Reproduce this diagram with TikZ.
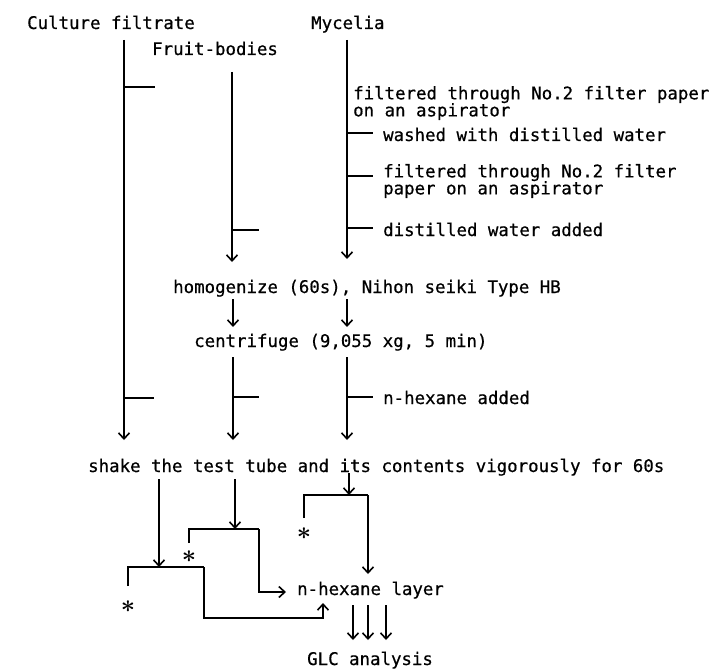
\documentclass[tikz,border=0pt]{standalone}
\usepackage{fontspec}
\newfontfamily\labfont[FakeBold=0.6]{DejaVu Sans Mono}
\usetikzlibrary{arrows.meta}
\begin{document}
\begin{tikzpicture}[x=1pt,y=-1pt,
  lbl/.style={anchor=base west,inner sep=0pt,font=\labfont\fontsize{17.4}{17}\selectfont},
  lbl2/.style={anchor=west,align=left,inner sep=0pt,font=\labfont\fontsize{17.4}{17}\selectfont},
  ln/.style={line width=1.6pt},
  arr/.style={ln,-{Straight Barb[length=6pt,width=11pt,line width=1.6pt]}},
  star/.style={inner sep=0pt,font=\fontsize{26}{26}\selectfont\boldmath}]
\useasboundingbox (0,0) rectangle (716,669);
% texts
\node[lbl] (cf) at (27,29) {Culture filtrate};
\node[lbl] (my) at (311,29) {Mycelia};
\node[lbl] (fb) at (152,55) {Fruit-bodies};
\node[lbl2] (f1) at (353,103) {filtered through No.2 filter paper\\on an aspirator};
\node[lbl] (wa) at (383,141) {washed with distilled water};
\node[lbl2] (f2) at (383,181) {filtered through No.2 filter\\paper on an aspirator};
\node[lbl] (dw) at (383,236) {distilled water added};
\node[lbl] (ho) at (173,293) {homogenize (60s), Nihon seiki Type HB};
\node[lbl] (ce) at (194,347) {centrifuge (9,055 xg, 5 min)};
\node[lbl] (nh) at (383,404) {n-hexane added};
\node[lbl] (sh) at (88,472) {shake the test tube and its contents vigorously for 60s};
\node[lbl] (la) at (297,595) {n-hexane layer};
\node[lbl] (gl) at (307,665) {GLC analysis};
\node[star] (s1) at (128,607) {$\ast$};
\node[star] (s2) at (189,557) {$\ast$};
\node[star] (s3) at (304,534) {$\ast$};
% coordinates
\coordinate (c0) at (124,40);  \coordinate (c1) at (124,440);
\coordinate (ct1a) at (124,87); \coordinate (ct1b) at (155,87);
\coordinate (ct2a) at (124,398); \coordinate (ct2b) at (154,398);
\coordinate (fr0) at (232,72); \coordinate (fr1) at (232,262);
\coordinate (frta) at (232,230); \coordinate (frtb) at (259,230);
\coordinate (m0) at (347,40); \coordinate (m1) at (347,259);
\coordinate (mta) at (347,133); \coordinate (mtb) at (373,133);
\coordinate (mua) at (347,176); \coordinate (mub) at (373,176);
\coordinate (mva) at (347,228); \coordinate (mvb) at (373,228);
\coordinate (h1a) at (233,299); \coordinate (h1b) at (233,327);
\coordinate (h2a) at (347,299); \coordinate (h2b) at (347,327);
\coordinate (g1a) at (233,357); \coordinate (g1b) at (233,440);
\coordinate (g2a) at (347,357); \coordinate (g2b) at (347,440);
\coordinate (gt1a) at (233,397); \coordinate (gt1b) at (259,397);
\coordinate (gt2a) at (347,397); \coordinate (gt2b) at (373,397);
% bottom
\coordinate (b1a) at (159,479); \coordinate (b1b) at (159,567);
\coordinate (b2a) at (235,479); \coordinate (b2b) at (235,529);
\coordinate (b3a) at (349,473); \coordinate (b3b) at (349,495);
\coordinate (k1l) at (128,586); \coordinate (k1r) at (204,567);
\coordinate (k1d) at (204,618); \coordinate (k1e) at (323,618); \coordinate (k1t) at (323,603);
\coordinate (k2l) at (189,543); \coordinate (k2r) at (259,529);
\coordinate (k2d) at (259,592); \coordinate (k2e) at (286,592);
\coordinate (k3l) at (304,518); \coordinate (k3r) at (368,495);
\coordinate (k3e) at (368,574);
\coordinate (t1a) at (353,605); \coordinate (t1b) at (353,640);
\coordinate (t2a) at (368,605); \coordinate (t2b) at (368,640);
\coordinate (t3a) at (386,605); \coordinate (t3b) at (386,640);
% top lines
\draw[arr] (c0) -- (c1);
\draw[ln] (ct1a) -- (ct1b);
\draw[ln] (ct2a) -- (ct2b);
\draw[arr] (fr0) -- (fr1);
\draw[ln] (frta) -- (frtb);
\draw[arr] (m0) -- (m1);
\draw[ln] (mta) -- (mtb);
\draw[ln] (mua) -- (mub);
\draw[ln] (mva) -- (mvb);
\draw[arr] (h1a) -- (h1b);
\draw[arr] (h2a) -- (h2b);
\draw[arr] (g1a) -- (g1b);
\draw[arr] (g2a) -- (g2b);
\draw[ln] (gt1a) -- (gt1b);
\draw[ln] (gt2a) -- (gt2b);
% bottom lines
\draw[arr] (b1a) -- (b1b);
\draw[arr] (b2a) -- (b2b);
\draw[arr] (b3a) -- (b3b);
\draw[ln] (k1l) |- (k1r);
\draw[arr] (k1r) -- (k1d) -- (k1e) -- (k1t);
\draw[ln] (k2l) |- (k2r);
\draw[arr] (k2r) -- (k2d) -- (k2e);
\draw[ln] (k3l) |- (k3r);
\draw[arr] (k3r) -- (k3e);
\draw[arr] (t1a) -- (t1b);
\draw[arr] (t2a) -- (t2b);
\draw[arr] (t3a) -- (t3b);
\end{tikzpicture}
\end{document}
